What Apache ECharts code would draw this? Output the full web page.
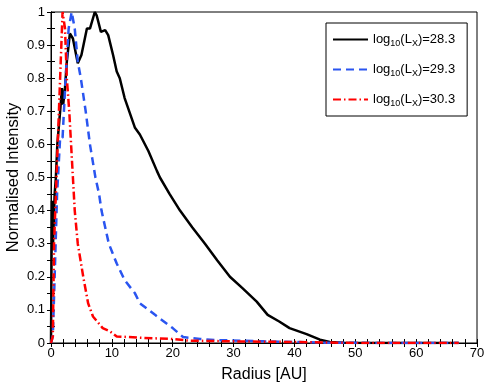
<!DOCTYPE html>
<html><head><meta charset="utf-8">
<script src="https://cdn.jsdelivr.net/npm/echarts@6/dist/echarts.min.js"></script>
<style>html,body{margin:0;padding:0;background:#fff}#c{width:491px;height:389px}</style>
</head><body><div id="c"></div>
<script>
// Series data: [radius AU, normalised intensity]
const lx283 = [[0,0],[0.15,0.43],[0.3,0.28],[0.6,0.45],[0.8,0.5],[1.04,0.6],[1.5,0.7],[1.8,0.77],[2.0,0.72],[2.3,0.77],[2.6,0.85],[3.1,0.935],[3.6,0.92],[4.4,0.845],[5.0,0.87],[5.9,0.95],[6.4,0.95],[7.2,1.0],[7.5,0.99],[8.2,0.94],[8.9,0.945],[9.4,0.93],[10.2,0.87],[10.8,0.82],[11.3,0.8],[12.1,0.74],[13.8,0.65],[14.6,0.63],[16.0,0.58],[17.4,0.52],[17.9,0.5],[19.5,0.45],[21.2,0.4],[23.2,0.35],[25.3,0.3],[27.3,0.25],[29.4,0.2],[31.5,0.165],[33.8,0.125],[35.6,0.085],[37.5,0.065],[39.2,0.045],[42.0,0.027],[44.2,0.01],[45.8,0.003],[48,0.001],[55,0],[67,0]];
const lx293 = [[0,0],[0.3,0.02],[0.6,0.2],[1.0,0.45],[1.5,0.62],[1.9,0.62],[2.4,0.8],[2.9,0.95],[3.4,1.0],[3.9,0.95],[4.4,0.85],[4.9,0.8],[5.7,0.7],[6.4,0.6],[7.3,0.5],[7.9,0.45],[8.3,0.4],[9.5,0.3],[10.8,0.24],[12.1,0.19],[13.8,0.15],[14.6,0.12],[17.1,0.085],[20.0,0.045],[21.7,0.018],[24.5,0.012],[27,0.009],[35,0.005],[45,0.001],[55,0],[67,0]];
const lx303 = [[0,0],[0.3,0.02],[0.5,0.3],[0.9,0.5],[1.3,0.7],[1.6,0.85],[1.9,1.0],[2.3,0.95],[2.6,0.8],[3.0,0.7],[3.3,0.6],[3.6,0.5],[3.9,0.4],[4.4,0.3],[5.3,0.2],[6.1,0.12],[6.9,0.08],[8.5,0.045],[9.7,0.035],[10.8,0.02],[14.6,0.016],[20.0,0.012],[22.7,0.007],[30,0.005],[40,0.003],[50,0],[67,0]];
const seriesNames = ['log10(LX)=28.3','log10(LX)=29.3','log10(LX)=30.3'];
const legendValues = ['28.3','29.3','30.3'];
const xTicks = [0,10,20,30,40,50,60,70];
const yTicks = [0,0.1,0.2,0.3,0.4,0.5,0.6,0.7,0.8,0.9,1];

const font = 'Liberation Sans, Arial, Helvetica, sans-serif';
const chart = echarts.init(document.getElementById('c'), null, {renderer:'canvas'});
function isMajor(v, step){ const q = v/step; return Math.abs(q-Math.round(q))<1e-6; }
function axisBase(){
  return {
    axisLine:{show:true,lineStyle:{color:'#000',width:1}},
    axisTick:{show:true,inside:true,length:4,lineStyle:{color:'#000',width:1}},
    splitLine:{show:false}
  };
}
chart.setOption({
  animation:false,
  backgroundColor:'#fff',
  grid:{left:51,right:14,top:12,bottom:46,show:true,borderColor:'#000',borderWidth:1,
    containLabel:false,outerBoundsMode:'none'},
  legend:{
    orient:'vertical', left:326, top:23,
    backgroundColor:'#fff', borderColor:'#000', borderWidth:1,
    padding:[8,12,8,6], itemWidth:35, itemHeight:14, itemGap:13,
    itemStyle:{opacity:0},
    data:seriesNames,
    formatter:function(n){return '{a|log}{s|10}{a|(L}{s|X}{a|)='+legendValues[seriesNames.indexOf(n)]+'}';},
    textStyle:{fontFamily:font,color:'#000',rich:{
      a:{fontSize:13,fontFamily:font,color:'#000',lineHeight:16},
      s:{fontSize:9,fontFamily:font,color:'#000',padding:[8,0,0,0],lineHeight:16}
    }}
  },
  xAxis:[
    Object.assign({type:'value',min:xTicks[0],max:xTicks[xTicks.length-1],interval:2,position:'bottom',
      name:'Radius [AU]',nameLocation:'middle',nameGap:24,nameMoveOverlap:false,
      nameTextStyle:{fontFamily:font,fontSize:16,color:'#000'},
      axisLabel:{fontFamily:font,fontSize:13,color:'#000',margin:4,
        formatter:function(v){return isMajor(v,10) ? String(Math.round(v)) : '';}}},axisBase()),
    Object.assign({type:'value',min:0,max:70,interval:2,position:'top',axisLabel:{show:false}},axisBase())
  ],
  yAxis:[
    Object.assign({type:'value',min:yTicks[0],max:yTicks[yTicks.length-1],interval:0.05,position:'left',
      name:'Normalised Intensity',nameLocation:'middle',nameGap:29,nameMoveOverlap:false,
      nameTextStyle:{fontFamily:font,fontSize:16.5,color:'#000'},
      axisLabel:{fontFamily:font,fontSize:13,color:'#000',margin:6,
        formatter:function(v){return isMajor(v,0.1) ? String(+v.toFixed(1)) : '';}}},axisBase()),
    Object.assign({type:'value',min:0,max:1,interval:0.05,position:'right',axisLabel:{show:false}},axisBase())
  ],
  series:[
    {name:seriesNames[0],type:'line',data:lx283,symbol:'none',lineStyle:{color:'#000',width:2.5},itemStyle:{color:'#000'}},
    {name:seriesNames[1],type:'line',data:lx293,symbol:'none',lineStyle:{color:'#2a55f0',width:2.5,type:[8,5]},itemStyle:{color:'#2a55f0'}},
    {name:seriesNames[2],type:'line',data:lx303,symbol:'none',lineStyle:{color:'#ff0000',width:2.5,type:[8,3,1.5,3]},itemStyle:{color:'#ff0000'}}
  ]
});
</script></body></html>
